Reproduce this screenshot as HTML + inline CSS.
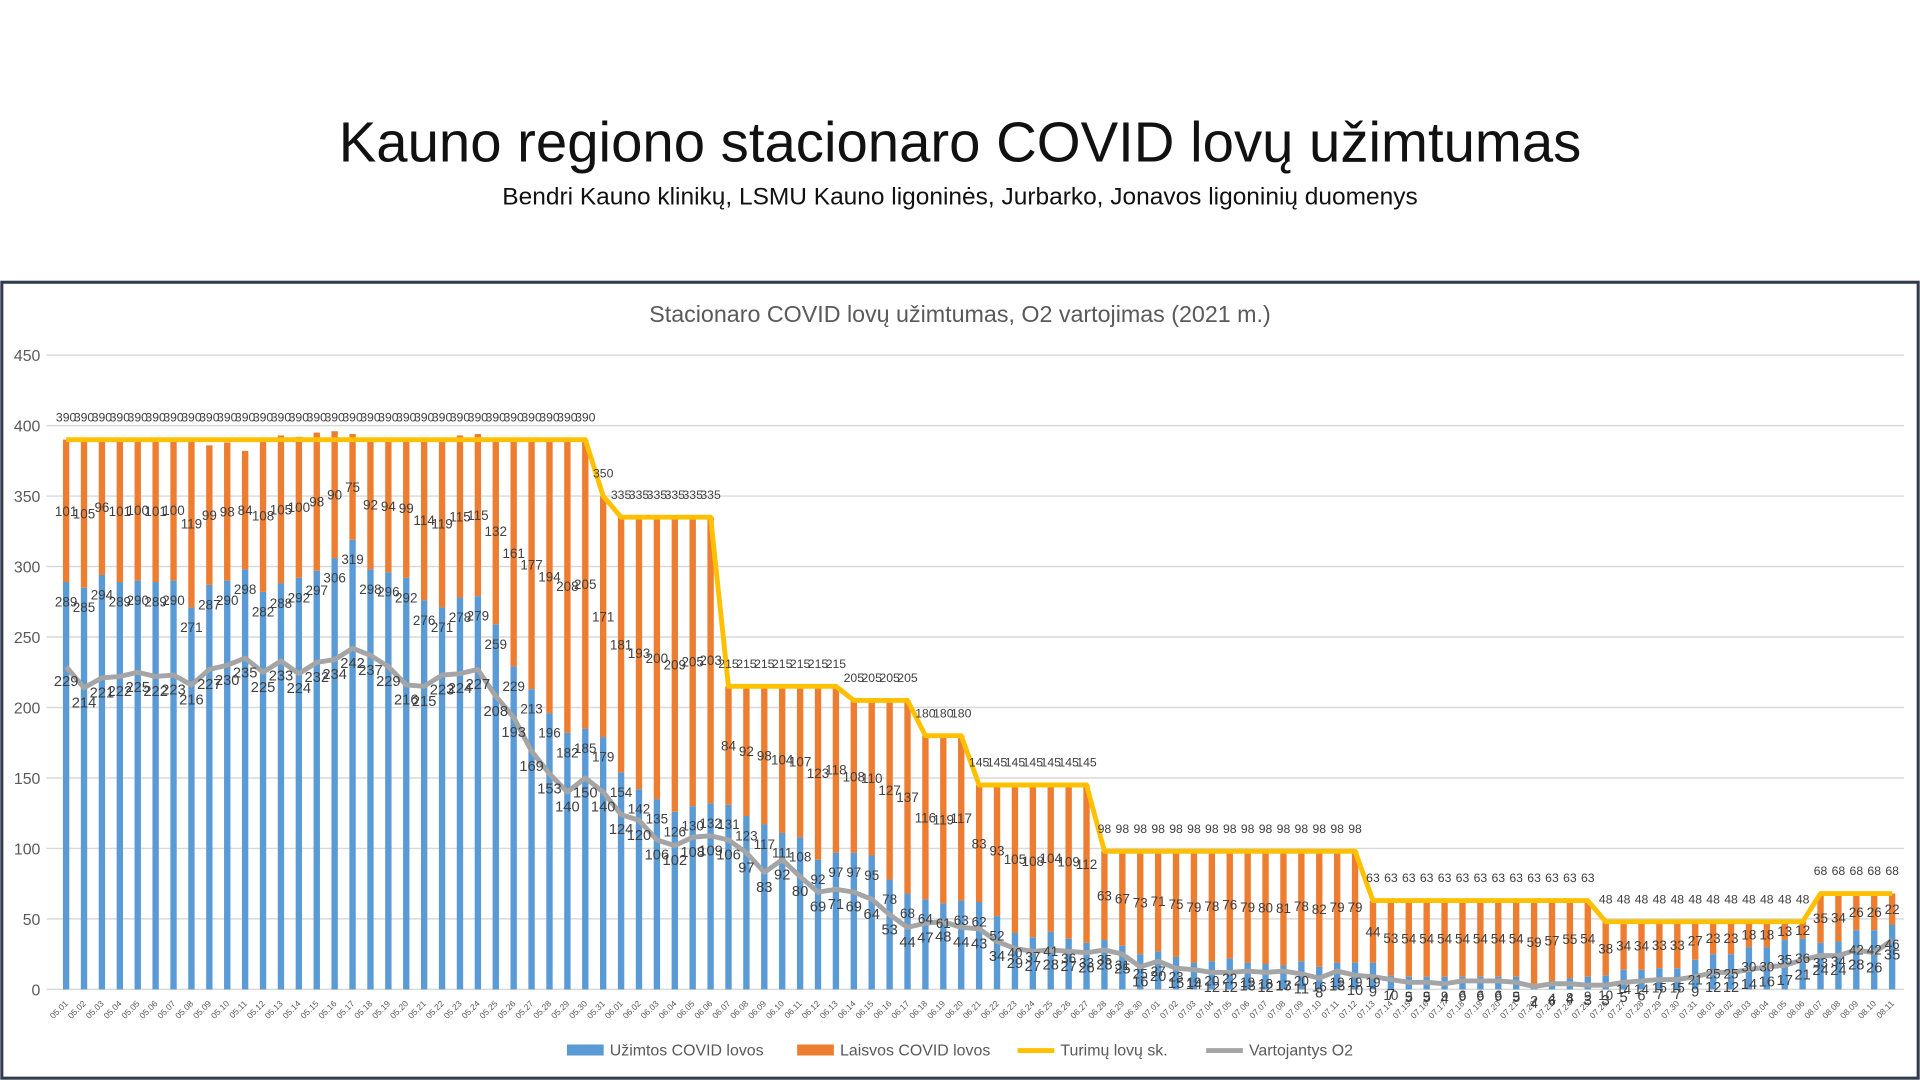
<!DOCTYPE html>
<html><head><meta charset="utf-8"><style>
html,body{margin:0;padding:0;background:#fff;overflow:hidden}
svg{display:block}
text{font-family:"Liberation Sans","DejaVu Sans",sans-serif}
</style></head><body>
<svg id="s" width="1920" height="1080" viewBox="0 0 1568 882" xmlns="http://www.w3.org/2000/svg">
<rect width="1568" height="882" fill="#fff"/>
<text x="784" y="132" text-anchor="middle" font-size="46" fill="#111">Kauno regiono stacionaro COVID lovų užimtumas</text>
<text x="784" y="167" text-anchor="middle" font-size="20" fill="#111">Bendri Kauno klinikų, LSMU Kauno ligoninės, Jurbarko, Jonavos ligoninių duomenys</text>
<rect x="1.5" y="230.5" width="1565" height="650" fill="none" stroke="#323c4e" stroke-width="2.5"/>
<text x="784" y="263" text-anchor="middle" font-size="19" fill="#595959">Stacionaro COVID lovų užimtumas, O2 vartojimas (2021 m.)</text>
<g id="g"></g>
</svg>
<script>
var cap=[],b=[],f=[],o=[];
function rep(v,n){for(var i=0;i<n;i++)cap.push(v);}
rep(390,30);rep(350,1);rep(335,6);rep(215,7);rep(205,4);rep(180,3);rep(145,7);rep(98,15);rep(63,13);rep(48,12);rep(68,5);
b=[289,285,294,289,290,289,290,271,287,290,298,282,288,292,297,306,319,298,296,292,276,271,278,279,259,229,213,196,182,185,179,
154,142,135,126,130,132,131,123,117,111,108,92,97,97,95,78,68,64,61,63,62,52,40,37,41,36,33,
35,31,25,27,23,19,20,22,19,18,17,20,16,19,19,
19,10,9,9,9,9,9,9,9,4,6,8,9,
10,14,14,15,15,21,25,25,30,30,35,36,
33,34,42,42,46];
var fm=[101,105,96,101,100,101,100,119,99,98,84,108,105,100,98,90,75,92,94,99,114,119,115,115,132,161,177,194,208,205];
for(var i=0;i<103;i++){f.push(i<30?fm[i]:cap[i]-b[i]);}
o=[229,214,221,222,225,222,223,216,227,230,235,225,233,224,232,234,242,237,229,216,215,223,224,227,208,193,169,153,140,150,140,
124,120,106,102,108,109,106,97,83,92,80,69,71,69,64,53,44,47,48,44,43,34,29,27,28,27,26,
28,25,16,20,15,14,12,12,13,12,13,11,8,13,10,
9,7,5,5,4,6,6,6,5,2,4,4,3,
3,5,6,7,7,9,12,12,14,16,17,21,
24,24,28,26,35];
while(b.length<103)b.push(10);while(o.length<103)o.push(5);
var mon=[[5,31],[6,30],[7,31],[8,11]],dates=[];
mon.forEach(function(m){for(var d=1;d<=m[1];d++)dates.push('0'+m[0]+'.'+(d<10?'0':'')+d);});
function Y(v){return 808-v*518/450;}
function X(i){return 54+i*14.62;}
var h='';
for(var k=0;k<=9;k++){var y=Y(k*50);h+='<line x1="38" x2="1555" y1="'+y+'" y2="'+y+'" stroke="#d9d9d9" stroke-width="1.2"/>';
h+='<text x="33" y="'+(y+5)+'" text-anchor="end" font-size="13" fill="#595959">'+(k*50)+'</text>';}
for(var i=0;i<103;i++){var x=X(i);
h+='<rect x="'+(x-2.6)+'" y="'+Y(b[i])+'" width="5.2" height="'+(b[i]*518/450)+'" fill="#5b9bd5"/>';
h+='<rect x="'+(x-2.6)+'" y="'+Y(b[i]+f[i])+'" width="5.2" height="'+(f[i]*518/450)+'" fill="#ed7d31"/>';
h+='<text transform="translate('+(x+2)+',820) rotate(-45)" text-anchor="end" font-size="7" fill="#595959">'+dates[i]+'</text>';}
var pc='',po='';
for(var i=0;i<103;i++){pc+=(i?'L':'M')+X(i)+','+Y(cap[i]);po+=(i?'L':'M')+X(i)+','+Y(o[i]);}
h+='<path d="'+po+'" fill="none" stroke="#a5a5a5" stroke-width="4" stroke-linejoin="round"/>';
h+='<path d="'+pc+'" fill="none" stroke="#ffc000" stroke-width="4" stroke-linejoin="round"/>';
for(var i=0;i<103;i++){var x=X(i);
h+='<text x="'+x+'" y="'+(Y(cap[i])-15)+'" text-anchor="middle" font-size="10" fill="#404040">'+cap[i]+'</text>';
h+='<text x="'+x+'" y="'+(Y(b[i]+f[i]/2)+4)+'" text-anchor="middle" font-size="11" fill="#404040">'+f[i]+'</text>';
h+='<text x="'+x+'" y="'+(Y(b[i])+20)+'" text-anchor="middle" font-size="11" fill="#404040">'+b[i]+'</text>';
h+='<text x="'+x+'" y="'+(Y(o[i])+16)+'" text-anchor="middle" font-size="12" fill="#404040">'+o[i]+'</text>';}
h+='<rect x="463" y="853" width="30" height="9" fill="#5b9bd5"/><text x="498" y="862" font-size="13" fill="#595959">Užimtos COVID lovos</text>';
h+='<rect x="651" y="853" width="30" height="9" fill="#ed7d31"/><text x="686" y="862" font-size="13" fill="#595959">Laisvos COVID lovos</text>';
h+='<line x1="831" x2="861" y1="858" y2="858" stroke="#ffc000" stroke-width="4"/><text x="866" y="862" font-size="13" fill="#595959">Turimų lovų sk.</text>';
h+='<line x1="985" x2="1015" y1="858" y2="858" stroke="#a5a5a5" stroke-width="4"/><text x="1020" y="862" font-size="13" fill="#595959">Vartojantys O2</text>';
document.getElementById('g').innerHTML=h;
</script>
</body></html>
